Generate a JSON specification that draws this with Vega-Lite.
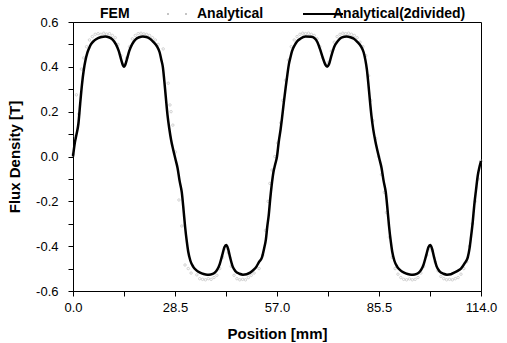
{
  "$schema": "https://vega.github.io/schema/vega-lite/v6.json",
  "width": 408,
  "height": 269,
  "autosize": {"type": "none"},
  "padding": {"left": 73, "top": 22, "right": 26, "bottom": 52},
  "background": "white",
  "config": {
    "view": {"stroke": "black", "strokeWidth": 1},
    "font": "Liberation Sans",
    "axis": {"grid": false, "domainColor": "black", "tickColor": "black", "labelColor": "black", "titleColor": "black", "labelFont": "Liberation Sans", "titleFont": "Liberation Sans", "labelFontSize": 13, "titleFontSize": 15, "titleFontWeight": "bold", "domainWidth": 1, "tickWidth": 1}
  },
  "datasets": {
    "curve": [
      {"x": 0, "y": 0}, {"x": 0.5, "y": 0.06}, {"x": 1.0, "y": 0.10}, {"x": 1.5, "y": 0.145}, {"x": 2.0, "y": 0.235}, {"x": 2.5, "y": 0.32}, {"x": 3.0, "y": 0.385}, {"x": 3.5, "y": 0.43}, {"x": 4.0, "y": 0.462}, {"x": 4.5, "y": 0.483}, {"x": 5.0, "y": 0.5}, {"x": 6.0, "y": 0.518}, {"x": 7.0, "y": 0.528}, {"x": 8.0, "y": 0.533}, {"x": 9.0, "y": 0.535}, {"x": 10.0, "y": 0.532}, {"x": 11.0, "y": 0.522}, {"x": 12.0, "y": 0.5}, {"x": 12.8, "y": 0.47}, {"x": 13.5, "y": 0.43}, {"x": 14.0, "y": 0.405}, {"x": 14.25, "y": 0.4}, {"x": 14.5, "y": 0.405}, {"x": 15.0, "y": 0.43}, {"x": 15.7, "y": 0.47}, {"x": 16.5, "y": 0.5}, {"x": 17.5, "y": 0.522}, {"x": 18.5, "y": 0.532}, {"x": 19.5, "y": 0.535}, {"x": 20.5, "y": 0.533}, {"x": 21.5, "y": 0.525},
      {"x": 22.5, "y": 0.51}, {"x": 23.5, "y": 0.49}, {"x": 24.2, "y": 0.465}, {"x": 24.7, "y": 0.43}, {"x": 25.1, "y": 0.4}, {"x": 25.5, "y": 0.34}, {"x": 25.9, "y": 0.27}, {"x": 26.4, "y": 0.186}, {"x": 26.9, "y": 0.125}, {"x": 27.4, "y": 0.075}, {"x": 28.0, "y": 0.03}, {"x": 28.6, "y": -0.01}, {"x": 29.2, "y": -0.05}, {"x": 29.8, "y": -0.11}, {"x": 30.4, "y": -0.16}, {"x": 30.9, "y": -0.24}, {"x": 31.3, "y": -0.31}, {"x": 31.8, "y": -0.38}, {"x": 32.2, "y": -0.425}, {"x": 32.8, "y": -0.465}, {"x": 33.6, "y": -0.492}, {"x": 34.5, "y": -0.508}, {"x": 35.5, "y": -0.518}, {"x": 36.5, "y": -0.524}, {"x": 37.5, "y": -0.527}, {"x": 38.5, "y": -0.526}, {"x": 39.5, "y": -0.52}, {"x": 40.3, "y": -0.505}, {"x": 41.0, "y": -0.48}, {"x": 41.7, "y": -0.44}, {"x": 42.3, "y": -0.405}, {"x": 42.8, "y": -0.395}, {"x": 43.3, "y": -0.41}, {"x": 43.9, "y": -0.45}, {"x": 44.6, "y": -0.49}, {"x": 45.4, "y": -0.512}, {"x": 46.5, "y": -0.523}, {"x": 47.5, "y": -0.527}, {"x": 48.5, "y": -0.525}, {"x": 49.5, "y": -0.518}, {"x": 50.5, "y": -0.505}, {"x": 51.3, "y": -0.49}, {"x": 52.0, "y": -0.47}, {"x": 52.8, "y": -0.45}, {"x": 53.4, "y": -0.41}, {"x": 53.9, "y": -0.37}, {"x": 54.3, "y": -0.31}, {"x": 54.7, "y": -0.26}, {"x": 55.1, "y": -0.19}, {"x": 55.5, "y": -0.13}, {"x": 56.0, "y": -0.07}, {"x": 56.5, "y": -0.035}, {"x": 57.0, "y": 0.0},
      {"x": 57.5, "y": 0.067}, {"x": 58.0, "y": 0.12}, {"x": 58.4, "y": 0.171}, {"x": 58.9, "y": 0.24}, {"x": 59.4, "y": 0.305}, {"x": 59.9, "y": 0.365}, {"x": 60.3, "y": 0.41}, {"x": 60.8, "y": 0.445}, {"x": 61.2, "y": 0.47}, {"x": 61.9, "y": 0.495}, {"x": 62.6, "y": 0.513}, {"x": 63.5, "y": 0.525}, {"x": 65.0, "y": 0.535}, {"x": 66.5, "y": 0.534}, {"x": 67.5, "y": 0.528}, {"x": 68.3, "y": 0.51}, {"x": 69.0, "y": 0.48}, {"x": 69.8, "y": 0.44}, {"x": 70.5, "y": 0.41}, {"x": 71.0, "y": 0.4}, {"x": 71.5, "y": 0.41}, {"x": 72.2, "y": 0.45}, {"x": 73.0, "y": 0.49}, {"x": 74.0, "y": 0.515}, {"x": 75.0, "y": 0.53}, {"x": 76.5, "y": 0.535}, {"x": 77.5, "y": 0.532}, {"x": 78.5, "y": 0.525}, {"x": 79.5, "y": 0.51}, {"x": 80.5, "y": 0.49}, {"x": 81.2, "y": 0.465}, {"x": 81.7, "y": 0.43}, {"x": 82.1, "y": 0.39}, {"x": 82.5, "y": 0.33}, {"x": 82.9, "y": 0.26}, {"x": 83.4, "y": 0.18}, {"x": 83.9, "y": 0.12}, {"x": 84.4, "y": 0.075}, {"x": 85.0, "y": 0.03}, {"x": 85.6, "y": -0.01}, {"x": 86.2, "y": -0.05}, {"x": 86.8, "y": -0.11}, {"x": 87.4, "y": -0.16}, {"x": 87.9, "y": -0.24}, {"x": 88.3, "y": -0.31}, {"x": 88.8, "y": -0.38}, {"x": 89.2, "y": -0.425}, {"x": 89.8, "y": -0.465}, {"x": 90.6, "y": -0.492}, {"x": 91.5, "y": -0.508}, {"x": 92.5, "y": -0.518}, {"x": 93.5, "y": -0.524}, {"x": 94.5, "y": -0.527}, {"x": 95.5, "y": -0.526}, {"x": 96.5, "y": -0.52}, {"x": 97.3, "y": -0.505}, {"x": 98.0, "y": -0.48}, {"x": 98.7, "y": -0.44}, {"x": 99.3, "y": -0.405}, {"x": 99.8, "y": -0.395}, {"x": 100.3, "y": -0.41}, {"x": 100.9, "y": -0.45}, {"x": 101.6, "y": -0.49}, {"x": 102.4, "y": -0.512}, {"x": 103.5, "y": -0.523}, {"x": 104.5, "y": -0.527}, {"x": 105.6, "y": -0.525}, {"x": 106.5, "y": -0.518}, {"x": 107.5, "y": -0.51}, {"x": 108.4, "y": -0.5}, {"x": 109.5, "y": -0.475}, {"x": 110.3, "y": -0.45}, {"x": 110.8, "y": -0.41}, {"x": 111.2, "y": -0.36}, {"x": 111.7, "y": -0.29}, {"x": 112.1, "y": -0.22}, {"x": 112.6, "y": -0.15}, {"x": 113.1, "y": -0.085}, {"x": 113.6, "y": -0.045}, {"x": 114.0, "y": -0.02}
    ],
    "fem": [
      {"x": 0.0, "y": 0.01}, {"x": 0.6, "y": 0.09}, {"x": 0.95, "y": 0.275}, {"x": 1.6, "y": 0.19}, {"x": 2.35, "y": 0.39}, {"x": 3.0, "y": 0.44}, {"x": 3.8, "y": 0.49}, {"x": 4.6, "y": 0.52}, {"x": 5.4, "y": 0.535}, {"x": 6.2, "y": 0.545}, {"x": 7.0, "y": 0.548}, {"x": 7.8, "y": 0.545}, {"x": 8.6, "y": 0.55}, {"x": 9.4, "y": 0.546}, {"x": 10.2, "y": 0.548}, {"x": 11.0, "y": 0.54}, {"x": 11.8, "y": 0.53}, {"x": 12.6, "y": 0.5}, {"x": 13.4, "y": 0.45}, {"x": 14.2, "y": 0.41}, {"x": 15.0, "y": 0.44}, {"x": 15.8, "y": 0.49}, {"x": 16.6, "y": 0.525}, {"x": 17.4, "y": 0.54}, {"x": 18.2, "y": 0.548}, {"x": 19.0, "y": 0.55}, {"x": 19.8, "y": 0.547}, {"x": 20.6, "y": 0.545}, {"x": 21.4, "y": 0.54}, {"x": 22.2, "y": 0.53}, {"x": 23.0, "y": 0.52}, {"x": 23.8, "y": 0.5}, {"x": 25.2, "y": 0.48}, {"x": 26.6, "y": 0.327}, {"x": 27.1, "y": 0.23}, {"x": 27.4, "y": 0.2}, {"x": 27.9, "y": 0.14}, {"x": 28.6, "y": 0.02}, {"x": 29.6, "y": -0.194}, {"x": 30.4, "y": -0.31}, {"x": 31.3, "y": -0.484}, {"x": 32.2, "y": -0.5}, {"x": 33.0, "y": -0.52}, {"x": 34.6, "y": -0.528}, {"x": 35.4, "y": -0.545}, {"x": 36.2, "y": -0.548}, {"x": 37.0, "y": -0.55}, {"x": 37.8, "y": -0.545}, {"x": 38.6, "y": -0.548}, {"x": 39.4, "y": -0.54}, {"x": 40.2, "y": -0.53}, {"x": 41.0, "y": -0.5}, {"x": 41.8, "y": -0.45}, {"x": 42.6, "y": -0.41}, {"x": 43.4, "y": -0.43}, {"x": 44.2, "y": -0.49}, {"x": 45.0, "y": -0.53}, {"x": 45.8, "y": -0.545}, {"x": 46.6, "y": -0.55}, {"x": 47.4, "y": -0.548}, {"x": 48.2, "y": -0.55}, {"x": 49.0, "y": -0.54}, {"x": 49.8, "y": -0.53}, {"x": 50.6, "y": -0.52}, {"x": 52.0, "y": -0.5}, {"x": 53.0, "y": -0.44}, {"x": 53.8, "y": -0.33}, {"x": 54.5, "y": -0.2}, {"x": 55.0, "y": -0.12}, {"x": 55.6, "y": -0.06}, {"x": 56.4, "y": 0.0},
      {"x": 57.2, "y": 0.06}, {"x": 58.0, "y": 0.15}, {"x": 58.6, "y": 0.25}, {"x": 59.4, "y": 0.34}, {"x": 60.2, "y": 0.43}, {"x": 61.0, "y": 0.49}, {"x": 61.8, "y": 0.52}, {"x": 62.6, "y": 0.535}, {"x": 63.4, "y": 0.545}, {"x": 64.2, "y": 0.55}, {"x": 65.0, "y": 0.548}, {"x": 65.8, "y": 0.55}, {"x": 66.6, "y": 0.545}, {"x": 67.4, "y": 0.54}, {"x": 68.2, "y": 0.525}, {"x": 69.0, "y": 0.49}, {"x": 69.8, "y": 0.44}, {"x": 70.6, "y": 0.41}, {"x": 71.4, "y": 0.42}, {"x": 72.2, "y": 0.47}, {"x": 73.0, "y": 0.51}, {"x": 73.8, "y": 0.535}, {"x": 74.6, "y": 0.545}, {"x": 75.4, "y": 0.55}, {"x": 76.2, "y": 0.548}, {"x": 77.0, "y": 0.55}, {"x": 77.8, "y": 0.545}, {"x": 78.6, "y": 0.54}, {"x": 79.4, "y": 0.53}, {"x": 80.2, "y": 0.51}, {"x": 81.0, "y": 0.49}, {"x": 81.8, "y": 0.45}, {"x": 82.6, "y": 0.36}, {"x": 83.2, "y": 0.25}, {"x": 83.8, "y": 0.16}, {"x": 84.6, "y": 0.08}, {"x": 85.4, "y": 0.0}, {"x": 86.2, "y": -0.08}, {"x": 87.0, "y": -0.16}, {"x": 87.6, "y": -0.25}, {"x": 88.4, "y": -0.36}, {"x": 89.2, "y": -0.45}, {"x": 90.0, "y": -0.5}, {"x": 90.8, "y": -0.525}, {"x": 91.6, "y": -0.54}, {"x": 92.4, "y": -0.548}, {"x": 93.2, "y": -0.55}, {"x": 94.0, "y": -0.546}, {"x": 94.8, "y": -0.55}, {"x": 95.6, "y": -0.548}, {"x": 96.4, "y": -0.54}, {"x": 97.2, "y": -0.52}, {"x": 98.0, "y": -0.49}, {"x": 98.8, "y": -0.44}, {"x": 99.6, "y": -0.41}, {"x": 100.4, "y": -0.42}, {"x": 101.2, "y": -0.47}, {"x": 102.0, "y": -0.51}, {"x": 102.8, "y": -0.535}, {"x": 103.6, "y": -0.545}, {"x": 104.4, "y": -0.55}, {"x": 105.2, "y": -0.548}, {"x": 106.0, "y": -0.55}, {"x": 106.8, "y": -0.545}, {"x": 107.6, "y": -0.54}, {"x": 108.4, "y": -0.525}, {"x": 109.2, "y": -0.5}, {"x": 110.0, "y": -0.47}, {"x": 110.8, "y": -0.4}, {"x": 111.6, "y": -0.3}, {"x": 112.4, "y": -0.2}, {"x": 113.2, "y": -0.1}, {"x": 114.0, "y": -0.02}
    ]
  },
  "encoding": {
    "x": {
      "field": "x", "type": "quantitative",
      "scale": {"domain": [0, 114], "nice": false, "zero": false},
      "axis": {
        "title": "Position [mm]",
        "values": [0, 14.25, 28.5, 42.75, 57, 71.25, 85.5, 99.75, 114],
        "labelExpr": "indexof([0, 28.5, 57, 85.5, 114], datum.value) >= 0 ? format(datum.value, '.1f') : ''",
        "tickSize": 5,
        "labelFlush": false,
        "labelPadding": 5,
        "titlePadding": 12
      }
    },
    "y": {
      "field": "y", "type": "quantitative",
      "scale": {"domain": [-0.6, 0.6], "nice": false, "zero": false},
      "axis": {
        "title": "Flux Density [T]",
        "values": [-0.6, -0.5, -0.4, -0.3, -0.2, -0.1, 0, 0.1, 0.2, 0.3, 0.4, 0.5, 0.6],
        "labelExpr": "abs(round(datum.value * 10)) % 2 == 0 ? (datum.value < -0.001 ? '-' : '') + format(abs(datum.value), '.1f') : ''",
        "tickSize": 5,
        "labelFlush": false,
        "labelPadding": 10,
        "titlePadding": 13
      }
    }
  },
  "layer": [
    {
      "data": {"name": "curve"},
      "mark": {"type": "line", "strokeWidth": 1, "strokeDash": [1, 3]},
      "encoding": {
        "color": {
          "datum": "Analytical", "type": "nominal",
          "scale": {"domain": ["FEM", "Analytical", "Analytical(2divided)"], "range": ["#a8a8a8", "#8a8a8a", "#000000"]},
          "legend": {
            "title": null,
            "orient": "none",
            "legendX": 10,
            "legendY": -15,
            "direction": "horizontal",
            "symbolType": "stroke",
            "symbolSize": 1600,
            "symbolStrokeWidth": 2,
            "labelFont": "Liberation Sans",
            "labelFontSize": 14,
            "labelFontWeight": "bold",
            "labelColor": "black",
            "labelOffset": 3,
            "columnPadding": 35,
            "encode": {
              "symbols": {
                "update": {
                  "strokeOpacity": {"signal": "datum.value === 'FEM' ? 0 : 1"},
                  "strokeDash": {"signal": "datum.value === 'Analytical' ? [2, 16] : [1, 0]"},
                  "strokeWidth": {"signal": "datum.value === 'Analytical' ? 1 : 2"}
                }
              }
            }
          }
        }
      }
    },
    {
      "data": {"name": "fem"},
      "mark": {"type": "point", "filled": false, "size": 6, "strokeWidth": 0.7},
      "encoding": {"color": {"datum": "FEM", "type": "nominal"}}
    },
    {
      "data": {"name": "curve"},
      "mark": {"type": "line", "strokeWidth": 2.5, "interpolate": "monotone"},
      "encoding": {"color": {"datum": "Analytical(2divided)", "type": "nominal"}}
    }
  ]
}
